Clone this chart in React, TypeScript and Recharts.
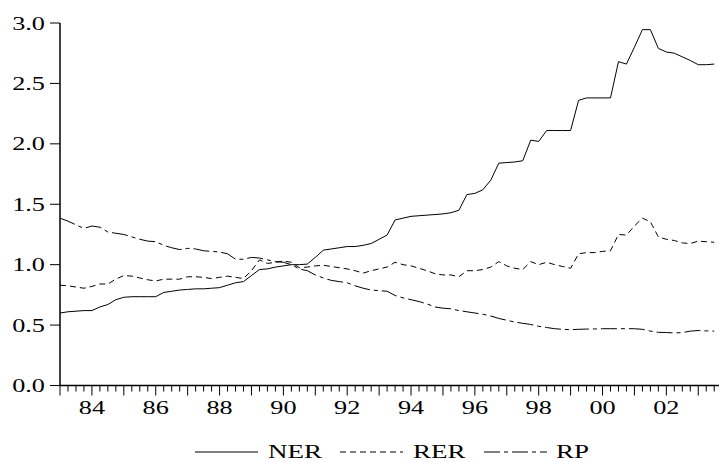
import React from 'react';
import { LineChart, Line, XAxis, YAxis, Legend } from 'recharts';

const quarters = [
  '1983Q1', '1983Q2', '1983Q3', '1983Q4',
  '1984Q1', '1984Q2', '1984Q3', '1984Q4',
  '1985Q1', '1985Q2', '1985Q3', '1985Q4',
  '1986Q1', '1986Q2', '1986Q3', '1986Q4',
  '1987Q1', '1987Q2', '1987Q3', '1987Q4',
  '1988Q1', '1988Q2', '1988Q3', '1988Q4',
  '1989Q1', '1989Q2', '1989Q3', '1989Q4',
  '1990Q1', '1990Q2', '1990Q3', '1990Q4',
  '1991Q1', '1991Q2', '1991Q3', '1991Q4',
  '1992Q1', '1992Q2', '1992Q3', '1992Q4',
  '1993Q1', '1993Q2', '1993Q3', '1993Q4',
  '1994Q1', '1994Q2', '1994Q3', '1994Q4',
  '1995Q1', '1995Q2', '1995Q3', '1995Q4',
  '1996Q1', '1996Q2', '1996Q3', '1996Q4',
  '1997Q1', '1997Q2', '1997Q3', '1997Q4',
  '1998Q1', '1998Q2', '1998Q3', '1998Q4',
  '1999Q1', '1999Q2', '1999Q3', '1999Q4',
  '2000Q1', '2000Q2', '2000Q3', '2000Q4',
  '2001Q1', '2001Q2', '2001Q3', '2001Q4',
  '2002Q1', '2002Q2', '2002Q3', '2002Q4',
  '2003Q1', '2003Q2', '2003Q3',
];

const ner = [
  0.60, 0.61, 0.615, 0.62,
  0.62, 0.65, 0.67, 0.71,
  0.73, 0.735, 0.735, 0.735,
  0.735, 0.77, 0.78, 0.79,
  0.795, 0.80, 0.80, 0.805,
  0.81, 0.83, 0.85, 0.86,
  0.91, 0.96, 0.965, 0.98,
  0.99, 1.00, 1.00, 1.005,
  1.06, 1.12, 1.13, 1.14,
  1.15, 1.15, 1.16, 1.175,
  1.21, 1.245, 1.37, 1.385,
  1.40, 1.405, 1.41, 1.415,
  1.42, 1.43, 1.45, 1.58,
  1.59, 1.62, 1.70, 1.84,
  1.845, 1.85, 1.86, 2.03,
  2.02, 2.11, 2.11, 2.11,
  2.11, 2.36, 2.38, 2.38,
  2.38, 2.38, 2.68, 2.66,
  2.80, 2.945, 2.945, 2.79,
  2.76, 2.75, 2.72, 2.69,
  2.655, 2.655, 2.66,
];

const rer = [
  0.83, 0.825, 0.815, 0.805,
  0.82, 0.84, 0.84, 0.88,
  0.91, 0.905, 0.89, 0.875,
  0.865, 0.88, 0.88, 0.88,
  0.90, 0.90, 0.895, 0.885,
  0.895, 0.905, 0.895, 0.885,
  0.95, 1.04, 1.01, 1.02,
  1.03, 1.02, 0.975, 0.98,
  0.99, 0.995, 0.985, 0.975,
  0.965, 0.95, 0.93, 0.95,
  0.965, 0.98, 1.02, 1.00,
  0.99, 0.97, 0.95, 0.925,
  0.915, 0.915, 0.90, 0.95,
  0.95, 0.96, 0.98, 1.025,
  0.99, 0.97, 0.96, 1.025,
  1.00, 1.02, 1.00, 0.985,
  0.97, 1.09, 1.10, 1.10,
  1.11, 1.115, 1.25, 1.245,
  1.32, 1.385, 1.355, 1.23,
  1.21, 1.20, 1.18, 1.175,
  1.195, 1.19, 1.185,
];

const rp = [
  1.385, 1.36, 1.33, 1.30,
  1.32, 1.31, 1.27, 1.26,
  1.25, 1.23, 1.21, 1.195,
  1.19, 1.16, 1.14, 1.125,
  1.135, 1.13, 1.115, 1.11,
  1.105, 1.09, 1.045, 1.045,
  1.06, 1.055, 1.04, 1.025,
  1.02, 1.00, 0.965, 0.95,
  0.915, 0.89, 0.87, 0.86,
  0.85, 0.825, 0.805, 0.79,
  0.785, 0.78, 0.745, 0.725,
  0.71, 0.695, 0.675, 0.65,
  0.64, 0.635, 0.62, 0.61,
  0.60, 0.59, 0.575, 0.555,
  0.54, 0.525, 0.515, 0.505,
  0.49, 0.48, 0.47, 0.465,
  0.462, 0.465, 0.467, 0.468,
  0.47, 0.47, 0.47, 0.47,
  0.47, 0.465, 0.45, 0.44,
  0.438, 0.435, 0.438, 0.45,
  0.455, 0.452, 0.45,
];

const yTicks = [0, 0.5, 1.0, 1.5, 2.0, 2.5, 3.0];
const yearLabels = ['84', '86', '88', '90', '92', '94', '96', '98', '00', '02'];
const seriesNames = ['NER', 'RER', 'RP'];

const data = quarters.map((q, i) => ({
  idx: i,
  period: q,
  NER: ner[i],
  RER: rer[i],
  RP: rp[i],
}));
const xTicks = quarters.map((_, i) => i);

const SX = 1.42;
const FONT = '"Liberation Serif", "Times New Roman", serif';
const DASH: Record<string, string | undefined> = {
  NER: undefined,
  RER: '6 4',
  RP: '16 4 4 4',
};

function XTick(props: any) {
  const { x, y, payload } = props;
  const q = quarters[payload.value];
  if (!q) return null;
  const isYear = q.endsWith('Q1');
  const yy = q.slice(2, 4);
  const showLabel = isYear && yearLabels.includes(yy);
  return (
    <g>
      <line x1={x} x2={x} y1={y} y2={y + (isYear ? 10 : 6)} stroke="#000" strokeWidth={1} />
      {showLabel && (
        <text
          transform={`translate(${x},${y + 28}) scale(${SX},1)`}
          textAnchor="middle"
          fontSize={18.5}
          fontFamily={FONT}
          fill="#000"
        >
          {yy}
        </text>
      )}
    </g>
  );
}

function YTick(props: any) {
  const { x, y, payload } = props;
  return (
    <text
      transform={`translate(${x},${y + 6.5}) scale(${SX},1)`}
      textAnchor="end"
      fontSize={18.5}
      fontFamily={FONT}
      fill="#000"
    >
      {Number(payload.value).toFixed(1)}
    </text>
  );
}

const legendLineX = [195, 340, 484];
const legendTextX = [268, 413, 556];

function LegendContent() {
  return (
    <div style={{ width: 719, height: 30, position: 'relative' }}>
      <svg width={719} height={30} style={{ display: 'block' }}>
        {seriesNames.map((name, k) => (
          <g key={name}>
            <line
              x1={legendLineX[k]}
              x2={legendLineX[k] + 63}
              y1={20}
              y2={20}
              stroke="#000"
              strokeWidth={1}
              strokeDasharray={DASH[name]}
            />
            <text
              transform={`translate(${legendTextX[k]},26) scale(${SX},1)`}
              fontSize={19}
              fontFamily={FONT}
              fill="#000"
            >
              {name}
            </text>
          </g>
        ))}
      </svg>
    </div>
  );
}

export default function App() {
  return (
    <div
      style={{
        position: 'absolute',
        left: 0,
        top: 0,
        width: 719,
        height: 462,
        overflow: 'hidden',
        background: '#fff',
      }}
    >
      <LineChart
        width={719}
        height={462}
        data={data}
        margin={{ top: 23, right: 0, bottom: 0, left: 0 }}
      >
        <XAxis
          dataKey="idx"
          type="number"
          domain={[0, 82.6]}
          ticks={xTicks}
          interval={0}
          tickSize={0}
          tickMargin={0}
          tickLine={false}
          tick={<XTick />}
          height={46.5}
          axisLine={{ stroke: '#000', strokeWidth: 1.5 }}
          allowDataOverflow
        />
        <YAxis
          type="number"
          domain={[0, 3]}
          ticks={yTicks}
          interval={0}
          width={60}
          tickSize={10}
          tickMargin={5}
          tickLine={{ stroke: '#000', strokeWidth: 1 }}
          tick={<YTick />}
          axisLine={{ stroke: '#000', strokeWidth: 1.5 }}
        />
        <Legend verticalAlign="bottom" content={<LegendContent />} />
        {seriesNames.map((name) => (
          <Line
            key={name}
            type="linear"
            dataKey={name}
            stroke="#000"
            strokeWidth={1}
            strokeDasharray={DASH[name]}
            dot={false}
            activeDot={false}
            isAnimationActive={false}
          />
        ))}
      </LineChart>
    </div>
  );
}
